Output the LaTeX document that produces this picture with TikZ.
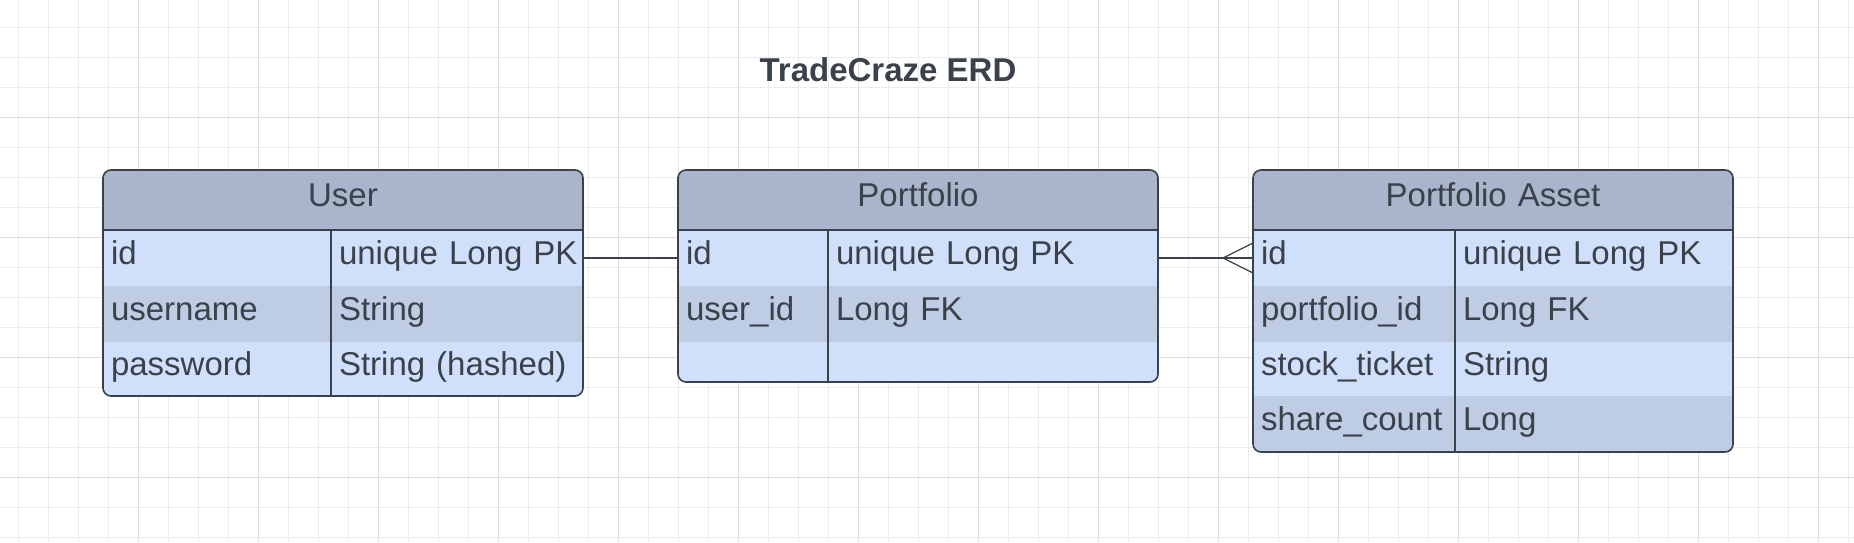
\documentclass[tikz,border=0pt]{standalone}
\usepackage{fontspec}
\setmainfont{Liberation Sans}
\usepackage{xcolor}
\usetikzlibrary{positioning, calc}

\definecolor{inkgray}{RGB}{58,65,75}
\definecolor{headblue}{RGB}{169,181,202}
\definecolor{rowlight}{RGB}{209,224,250}
\definecolor{rowdark}{RGB}{190,204,228}
\definecolor{gridminor}{RGB}{236,236,236}
\definecolor{gridmajor}{RGB}{221,221,221}

\tikzset{
  hdr/.style={fill=headblue, text=inkgray, anchor=north west, outer sep=0pt,
    inner xsep=8pt, inner ysep=0pt, minimum height=60pt, text width=464pt,
    align=center, text height=24pt, text depth=11pt, font=\fontsize{33}{39}\selectfont},
  fieldcell/.style 2 args={fill=#1, text=inkgray, anchor=north west, outer sep=0pt,
    inner xsep=8pt, inner ysep=0pt, minimum height=56pt, text width=#2,
    align=left, text height=24pt, text depth=12pt, font=\fontsize{33}{39}\selectfont,
    execute at begin node={\hbox\bgroup}, execute at end node={\egroup}},
  tableline/.style={draw=inkgray, line width=1.6pt},
  relline/.style={draw=inkgray, line width=1.3pt},
}

\begin{document}
\begin{tikzpicture}[x=1pt, y=-1pt]
  \useasboundingbox (0,0) rectangle (1854,542);
  \fill[white] (0,0) rectangle (1854,542);

  % background grid
  \foreach \gx in {18,48,...,1854}
    \draw[gridminor, line width=1pt] (\gx,0) -- (\gx,542);
  \foreach \gy in {27,57,...,542}
    \draw[gridminor, line width=1pt] (0,\gy) -- (1854,\gy);
  \foreach \gx in {138,258,...,1854}
    \draw[gridmajor, line width=1pt] (\gx,0) -- (\gx,542);
  \foreach \gy in {117,237,...,542}
    \draw[gridmajor, line width=1pt] (0,\gy) -- (1854,\gy);

  \node[text=inkgray, anchor=base, font=\fontsize{33}{39}\selectfont\bfseries]
    (erdtitle) at (888,81) {TradeCraze ERD};

  % User
  \begin{scope}
    \clip[rounded corners=8pt] (103,170) rectangle (583,396);
    \node[hdr] (userhead) at (103,170) {User};
    \node[fieldcell={rowlight}{212pt}] (userkey1) at (userhead.south west) {id};
    \node[fieldcell={rowlight}{236pt}] (userval1) at (userkey1.north east) {unique Long PK};
    \node[fieldcell={rowdark}{212pt}] (userkey2) at (userkey1.south west) {username};
    \node[fieldcell={rowdark}{236pt}] (userval2) at (userkey2.north east) {String};
    \node[fieldcell={rowlight}{212pt}, minimum height=54pt] (userkey3) at (userkey2.south west) {password};
    \node[fieldcell={rowlight}{236pt}, minimum height=54pt] (userval3) at (userkey3.north east) {String (hashed)};
  \end{scope}
  \draw[tableline, rounded corners=8pt] (userhead.north west) rectangle (userval3.south east);
  \draw[tableline] (userhead.south west) -- (userhead.south east);
  \draw[tableline] (userkey1.north east) -- (userkey3.south east);

  % Portfolio
  \begin{scope}
    \clip[rounded corners=8pt] (678,170) rectangle (1158,382);
    \node[hdr] (porthead) at (678,170) {Portfolio};
    \node[fieldcell={rowlight}{134pt}] (portkey1) at (porthead.south west) {id};
    \node[fieldcell={rowlight}{314pt}] (portval1) at (portkey1.north east) {unique Long PK};
    \node[fieldcell={rowdark}{134pt}] (portkey2) at (portkey1.south west) {user\_id};
    \node[fieldcell={rowdark}{314pt}] (portval2) at (portkey2.north east) {Long FK};
    \node[fieldcell={rowlight}{134pt}, minimum height=40pt] (portkey3) at (portkey2.south west) {};
    \node[fieldcell={rowlight}{314pt}, minimum height=40pt] (portval3) at (portkey3.north east) {};
  \end{scope}
  \draw[tableline, rounded corners=8pt] (porthead.north west) rectangle (portval3.south east);
  \draw[tableline] (porthead.south west) -- (porthead.south east);
  \draw[tableline] (portkey1.north east) -- (portkey3.south east);

  % Portfolio Asset
  \begin{scope}
    \clip[rounded corners=8pt] (1253,170) rectangle (1733,452);
    \node[hdr] (assethead) at (1253,170) {Portfolio Asset};
    \node[fieldcell={rowlight}{186pt}] (assetkey1) at (assethead.south west) {id};
    \node[fieldcell={rowlight}{262pt}] (assetval1) at (assetkey1.north east) {unique Long PK};
    \node[fieldcell={rowdark}{186pt}] (assetkey2) at (assetkey1.south west) {portfolio\_id};
    \node[fieldcell={rowdark}{262pt}] (assetval2) at (assetkey2.north east) {Long FK};
    \node[fieldcell={rowlight}{186pt}, minimum height=54pt] (assetkey3) at (assetkey2.south west) {stock\_ticket};
    \node[fieldcell={rowlight}{262pt}, minimum height=54pt] (assetval3) at (assetkey3.north east) {String};
    \node[fieldcell={rowdark}{186pt}] (assetkey4) at (assetkey3.south west) {share\_count};
    \node[fieldcell={rowdark}{262pt}] (assetval4) at (assetkey4.north east) {Long};
  \end{scope}
  \draw[tableline, rounded corners=8pt] (assethead.north west) rectangle (assetval4.south east);
  \draw[tableline] (assethead.south west) -- (assethead.south east);
  \draw[tableline] (assetkey1.north east) -- (assetkey4.south east);

  % relations
  \draw[relline] (userval1.east) -- (portkey1.west);
  \draw[relline] (portval1.east) -- (assetkey1.west);
  \coordinate (crowtip) at ($(assetkey1.west)+(-30,0)$);
  \draw[relline] ([yshift=15pt]assetkey1.west) -- (crowtip) -- ([yshift=-15pt]assetkey1.west);
\end{tikzpicture}
\end{document}
